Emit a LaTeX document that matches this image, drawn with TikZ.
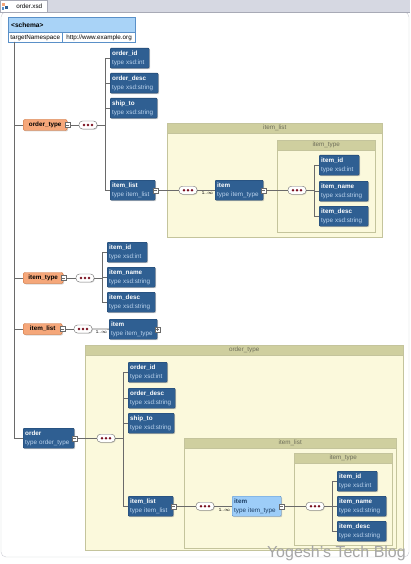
\documentclass[tikz,border=0pt]{standalone}
\usepackage{fontspec}
\setmainfont{Liberation Sans}
\usepackage{tikz}
\usetikzlibrary{positioning,shadows}
\definecolor{x_blue}{HTML}{2F5F92}
\definecolor{x_blueline}{HTML}{1C3F66}
\definecolor{x_type}{HTML}{BCD4EE}
\definecolor{x_light}{HTML}{9DCDF8}
\definecolor{x_lightline}{HTML}{5A8FC8}
\definecolor{x_orange}{HTML}{F5A77A}
\definecolor{x_orangeline}{HTML}{C9682F}
\definecolor{x_cont}{HTML}{FBF9DC}
\definecolor{x_head}{HTML}{CFCF9F}
\definecolor{x_contline}{HTML}{C4C49C}
\definecolor{x_headtext}{HTML}{6E6E5A}
\definecolor{x_dot}{HTML}{7A1020}
\definecolor{x_line}{HTML}{6A6A6A}
\definecolor{x_schema}{HTML}{A9D3F7}
\definecolor{x_schemaline}{HTML}{5A90C8}
\definecolor{x_tabbar}{HTML}{D6D8E2}
\definecolor{x_tabline}{HTML}{A8AAB6}
\newcommand\elemtext[2]{\textbf{#1}\\\textcolor{x_type}{type #2}}
\newcommand\xsdgroup[6]{%
  \node[cont, minimum width=#4pt, minimum height=#5pt] (#1) at (#2,#3) {};
  \node[conthead, minimum width=#4pt] (#1-h) at (#1.north west) {#6};}

\begin{document}
\begin{tikzpicture}[x=1pt,y=-1pt,
        font=\fontsize{6.3}{8.4}\selectfont,
        conn/.style={draw=x_line,line width=0.8pt},
        element/.style={draw=x_blueline,fill=x_blue,text=white,rounded corners=1pt,
            anchor=north west,align=left,inner xsep=2pt,inner ysep=1pt,
            minimum height=20pt,text width=#1,
            drop shadow={shadow xshift=1pt,shadow yshift=-1pt,opacity=.35}},
        chosen/.style={element=#1,fill=x_light,draw=x_lightline,text=x_blueline},
        topel/.style={draw=x_orangeline,fill=x_orange,rounded corners=2pt,
            font=\fontsize{6.3}{8.4}\selectfont\bfseries,anchor=west,inner sep=0pt,
            minimum height=11pt,minimum width=#1,
            drop shadow={shadow xshift=1pt,shadow yshift=-1pt,opacity=.3}},
        tog/.style={draw=x_line,fill=white,minimum size=5pt,inner sep=0pt,
            path picture={\draw[x_line,line width=.5pt]
                ([xshift=1pt]path picture bounding box.west) --
                ([xshift=-1pt]path picture bounding box.east);}},
        togplus/.style={tog,
            path picture={\draw[x_line,line width=.5pt]
                ([xshift=1pt]path picture bounding box.west) --
                ([xshift=-1pt]path picture bounding box.east)
                ([yshift=1pt]path picture bounding box.south) --
                ([yshift=-1pt]path picture bounding box.north);}},
        seq/.style={draw=x_line,fill=white,rounded corners=3.5pt,minimum width=18pt,
            minimum height=8pt,inner sep=0pt,
            drop shadow={shadow xshift=.8pt,shadow yshift=-.8pt,opacity=.3},
            path picture={\foreach \d in {-4,0,4}
                \fill[x_dot] ([xshift=\d pt]path picture bounding box.center) circle (1.4pt);}},
        cont/.style={draw=x_contline,fill=x_cont,anchor=north west,inner sep=0pt},
        conthead/.style={draw=x_contline,fill=x_head,anchor=north west,inner sep=0pt,
            minimum height=10pt,text=x_headtext},
        mult/.style={font=\fontsize{4.5}{5}\selectfont,inner sep=0pt,anchor=north east},
        schemahead/.style={draw=x_schemaline,fill=x_schema,anchor=north west,
            minimum height=15pt,text width=121pt,inner xsep=3pt,font=\fontsize{6.6}{8.6}\selectfont\bfseries},
        schemacell/.style={draw=x_schemaline,fill=white,anchor=north west,
            minimum height=10pt,inner sep=0pt}
    ]
    \useasboundingbox (0,0) rectangle (410,564);
    % window tab and frame
    \draw[x_tabline!60,rounded corners=5pt] (1,12) rectangle (409,557);
    \fill[x_tabbar] (0,0) rectangle (410,12);
    \draw[x_tabline] (0,12) -- (410,12);
    \node[draw=x_tabline,fill=white,anchor=north west,minimum width=47pt,minimum height=12pt,
        inner sep=0pt,text width=37pt,align=right] (tab) at (0,0) {order.xsd};
    \fill[x_orange] (2,3) rectangle (5,6);
    \fill[x_blue] (5,6) rectangle (8,9);
    \fill[x_schemaline] (2,7) rectangle (4,10);

    % schema
    \node[schemahead] (schema) at (8,17) {<schema>};
    \node[schemacell,minimum width=54pt] (tns) at (schema.south west) {targetNamespace};
    \node[schemacell,minimum width=73pt] (tnsval) at (tns.north east) {http://www.example.org};
    \coordinate (root) at (14,42);

    % containers
    \xsdgroup{c1}{167}{123}{215}{114}{item\_list}
    \xsdgroup{c2}{277}{140}{98}{92}{item\_type}
    \xsdgroup{c3}{85}{345}{318}{205}{order\_type}
    \xsdgroup{c4}{184}{438}{212}{110}{item\_list}
    \xsdgroup{c5}{294}{453}{98}{92}{item\_type}

    % order_type
    \node[topel=44pt] (ot) at (23,125) {order\_type};
    \node[tog,right=-2.5pt of ot] (ot-t) {};
    \node[seq,right=8.5pt of ot-t] (ot-s) {};
    \node[element=35pt] (ot-id) at (110,48) {\elemtext{order\_id}{xsd:int}};
    \node[element=44pt] (ot-desc) at (110,73) {\elemtext{order\_desc}{xsd:string}};
    \node[element=43pt] (ot-ship) at (110,98) {\elemtext{ship\_to}{xsd:string}};
    \node[element=41pt] (ot-il) at (110,180) {\elemtext{item\_list}{item\_list}};
    \node[tog,right=-2.5pt of ot-il] (ot-il-t) {};
    \node[seq,right=20.5pt of ot-il-t] (ot-il-s) {};
    \node[element=44pt] (ot-item) at (215,180) {\elemtext{item}{item\_type}};
    \node[mult] at ([xshift=-1pt,yshift=-1.5pt]ot-item.west) {1..$\infty$};
    \node[tog,right=-2.5pt of ot-item] (ot-item-t) {};
    \node[seq,right=21.5pt of ot-item-t] (ot-item-s) {};
    \node[element=36pt] (ot-iid) at (319,155) {\elemtext{item\_id}{xsd:int}};
    \node[element=45pt] (ot-iname) at (319,181) {\elemtext{item\_name}{xsd:string}};
    \node[element=45pt] (ot-idesc) at (319,206) {\elemtext{item\_desc}{xsd:string}};

    % item_type
    \node[topel=40pt] (it) at (23,278) {item\_type};
    \node[tog,right=-2.5pt of it] (it-t) {};
    \node[seq,right=9.5pt of it-t] (it-s) {};
    \node[element=36pt] (it-id) at (107,242) {\elemtext{item\_id}{xsd:int}};
    \node[element=44pt] (it-name) at (107,267) {\elemtext{item\_name}{xsd:string}};
    \node[element=44pt] (it-desc) at (107,292) {\elemtext{item\_desc}{xsd:string}};

    % item_list
    \node[topel=39pt] (il) at (23,329) {item\_list};
    \node[tog,right=-2.5pt of il] (il-t) {};
    \node[seq,right=8.5pt of il-t] (il-s) {};
    \node[element=44pt] (il-item) at (109,319) {\elemtext{item}{item\_type}};
    \node[mult] at ([xshift=-1pt,yshift=-1.5pt]il-item.west) {1..$\infty$};
    \node[togplus,right=-2.5pt of il-item] (il-item-t) {};

    % order
    \node[element=47pt] (ord) at (23,428) {\elemtext{order}{order\_type}};
    \node[tog,right=-2.5pt of ord] (ord-t) {};
    \node[seq,right=19.5pt of ord-t] (ord-s) {};
    \node[element=35pt] (o-id) at (128,362) {\elemtext{order\_id}{xsd:int}};
    \node[element=43pt] (o-desc) at (128,388) {\elemtext{order\_desc}{xsd:string}};
    \node[element=42pt] (o-ship) at (128,413) {\elemtext{ship\_to}{xsd:string}};
    \node[element=41pt] (o-il) at (128,496) {\elemtext{item\_list}{item\_list}};
    \node[tog,right=-2.5pt of o-il] (o-il-t) {};
    \node[seq,right=19.5pt of o-il-t] (o-il-s) {};
    \node[chosen=45pt] (o-item) at (232,496) {\textbf{item}\\type item\_type};
    \node[mult] at ([xshift=-1pt,yshift=-1.5pt]o-item.west) {1..$\infty$};
    \node[tog,right=-2.5pt of o-item] (o-item-t) {};
    \node[seq,right=21.5pt of o-item-t] (o-item-s) {};
    \node[element=36pt] (o-iid) at (337,471) {\elemtext{item\_id}{xsd:int}};
    \node[element=45pt] (o-iname) at (337,496) {\elemtext{item\_name}{xsd:string}};
    \node[element=45pt] (o-idesc) at (337,521) {\elemtext{item\_desc}{xsd:string}};

    % connectors
    \foreach \t in {ot,it,il,ord}
        \draw[conn] (root) |- (\t.west);
    \foreach \a/\b in {ot-t/ot-s,ot-il-t/ot-il-s,ot-il-s/ot-item,ot-item-t/ot-item-s,
            it-t/it-s,il-t/il-s,il-s/il-item,ord-t/ord-s,o-il-t/o-il-s,o-il-s/o-item,o-item-t/o-item-s}
        \draw[conn] (\a) -- (\b);
    \foreach \c in {ot-id,ot-desc,ot-ship,ot-il}
        \draw[conn] (ot-s.east) -- ++(8,0) |- (\c.west);
    \foreach \c in {ot-iid,ot-iname,ot-idesc}
        \draw[conn] (ot-item-s.east) -- ++(8,0) |- (\c.west);
    \foreach \c in {it-id,it-name,it-desc}
        \draw[conn] (it-s.east) -- ++(8,0) |- (\c.west);
    \foreach \c in {o-id,o-desc,o-ship,o-il}
        \draw[conn] (ord-s.east) -- ++(8,0) |- (\c.west);
    \foreach \c in {o-iid,o-iname,o-idesc}
        \draw[conn] (o-item-s.east) -- ++(8,0) |- (\c.west);

    % watermark
    \node[anchor=south east,font=\fontsize{16}{16}\selectfont,text=gray!70,inner sep=0pt]
        (mark) at (406,561) {Yogesh's Tech Blog};
\end{tikzpicture}
\end{document}
